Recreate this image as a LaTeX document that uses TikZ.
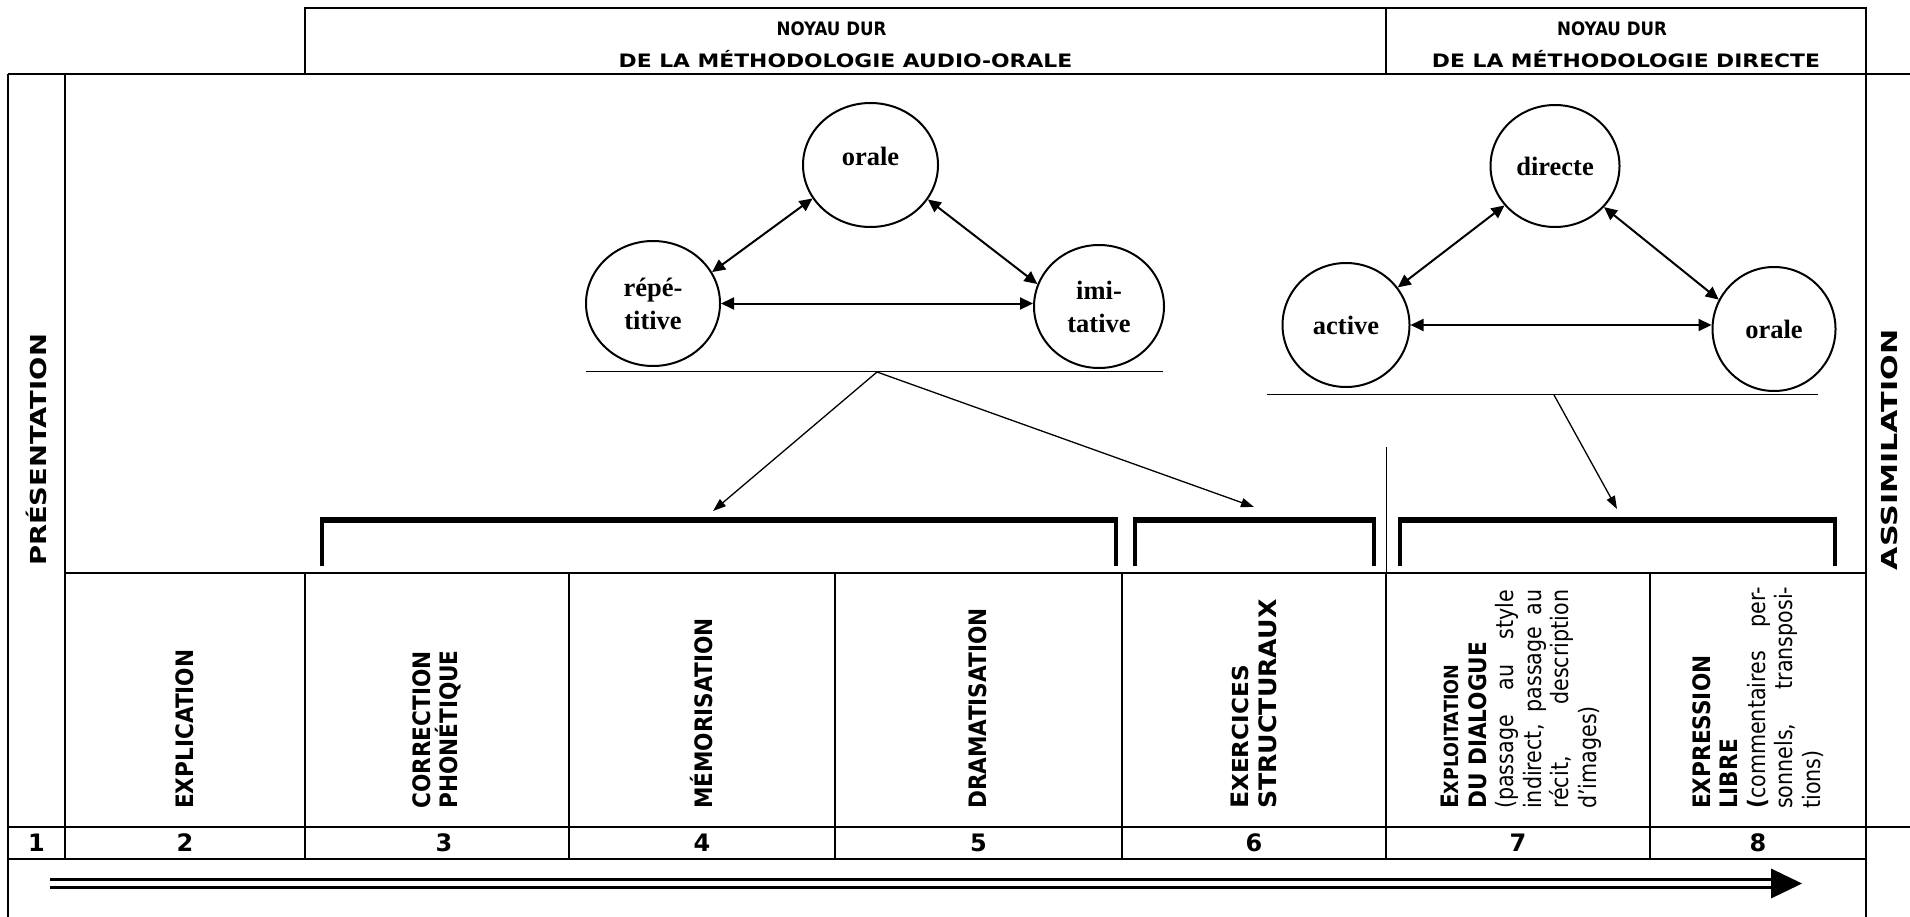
\documentclass[tikz,border=0pt]{standalone}
\usepackage{fontspec}
\setmainfont{DejaVu Sans}
\newfontfamily\hdfont{DejaVu Sans}[FakeStretch=1.18]
\newfontfamily\hdfontn{DejaVu Sans}[FakeStretch=0.9]
\newfontfamily\sidefont{DejaVu Sans}[FakeStretch=1.245]
\newfontfamily\sidewfont{DejaVu Sans}[FakeStretch=1.37]
\newfontfamily\rotfont{DejaVu Sans}[FakeStretch=0.86,BoldFeatures={FakeStretch=0.9}]
\newfontfamily\rotwfont{DejaVu Sans}[FakeStretch=1.05]
\newfontfamily\ovfont{Liberation Serif}
\usetikzlibrary{arrows.meta,shapes.geometric}

\begin{document}
\begin{tikzpicture}[
    x=1pt,y=-1pt,
    frame/.style={line width=2pt},
    oval/.style={draw,ellipse,line width=2pt,inner sep=0pt,align=center,
        font=\ovfont\bfseries\fontsize{26.5}{33}\selectfont},
    dbl/.style={{Triangle[length=13pt,width=12pt]}-{Triangle[length=13pt,width=12pt]},line width=2pt},
    arr/.style={-{Triangle[length=13pt,width=9pt]},line width=1.3pt},
    brk/.style={line width=4pt},
    head/.style={font=\hdfont\bfseries\fontsize{18.5}{32}\selectfont,align=center},
    side/.style={rotate=90,font=\sidefont\bfseries\fontsize{22}{22}\selectfont},
    cat/.style={rotate=90,anchor=west,inner sep=0pt,align=left,
        font=\rotfont\bfseries\fontsize{24}{27.5}\selectfont},
    num/.style={font=\bfseries\fontsize{24}{24}\selectfont}
]
\fill[white] (0,0) rectangle (1910,917);
\useasboundingbox (0,0) rectangle (1910,917);

% table frame
\draw[frame] (305,8) rectangle (1866,74);
\draw[frame] (1386,8) -- (1386,74);
\draw[frame] (8,74) -- (1910,74);
\draw[frame] (8,74) -- (8,917);
\draw[frame] (1866,74) -- (1866,917);
\draw[frame] (65,74) -- (65,859);
\draw[frame] (65,573) -- (1866,573);
\draw[frame] (8,827) -- (1910,827);
\draw[frame] (8,859) -- (1866,859);
\foreach \x in {305,569,835,1122,1386,1650}
    \draw[frame] (\x,573) -- (\x,859);
\draw (1386,447) -- (1386,573);

% headers
\node[head] (hdao) at (845.5,44.5) {{\hdfontn NOYAU DUR}\hspace*{28pt}\\DE LA MÉTHODOLOGIE AUDIO-ORALE};
\node[head] (hddir) at (1626,44.5) {{\hdfontn NOYAU DUR}\hspace*{28pt}\\DE LA MÉTHODOLOGIE DIRECTE};
\node[side] (pres) at (36.5,450) {PRÉSENTATION};
\node[side,font=\sidewfont\bfseries\fontsize{22}{22}\selectfont] (assim) at (1889,450) {ASSIMILATION};

% audio-orale
\node[oval,minimum width=135pt,minimum height=124pt,text depth=17pt] (orale) at (870.5,165) {orale};
\node[oval,minimum width=134pt,minimum height=125pt] (repet) at (653,303.5) {répé-\\titive};
\node[oval,minimum width=130pt,minimum height=123pt] (imit) at (1099,306.5) {imi-\\tative};
\draw[dbl] (repet.28) -- (orale.210);
\draw[dbl] (orale.329) -- (imit.160);
\draw[dbl] (repet.east) -- (repet.east -| imit.west);
\draw (586,371) -- (1163,371);

% directe
\node[oval,minimum width=129pt,minimum height=122pt] (directe) at (1555,166) {directe};
\node[oval,minimum width=127pt,minimum height=124pt] (active) at (1346,325) {active};
\node[oval,minimum width=123pt,minimum height=124pt] (oraled) at (1774,329) {orale};
\draw[dbl] (active.36) -- (directe.218);
\draw[dbl] (directe.320) -- (oraled.152);
\draw[dbl] (active.east) -- (active.east -| oraled.west);
\draw (1267,394) -- (1818,394);

% brackets
\foreach \l/\r in {322/1116,1135/1374,1400/1835}{
    \draw[brk] (\l,566) -- (\l,520) -- (\r,520) -- (\r,566);
    \draw[line width=6pt] (\l-2,520) -- (\r+2,520);
}
\coordinate (aosplit) at (877,372);
\coordinate (dsplit) at (1554,395);
\coordinate (b1) at (713,511);
\coordinate (b2) at (1254,507);
\coordinate (b3) at (1617,509);
\draw[arr] (aosplit) -- (b1);
\draw[arr] (aosplit) -- (b2);
\draw[arr] (dsplit) -- (b3);

% steps
\node[cat] (c2) at (185,809) {EXPLICATION};
\node[cat] (c3) at (437,809) {CORRECTION\\PHONÉTIQUE};
\node[cat] (c4) at (702,809) {MÉMORISATION};
\node[cat] (c5) at (978,809) {DRAMATISATION};
\node[cat,font=\rotwfont\bfseries\fontsize{24}{27.5}\selectfont] (c6) at (1254,809)
    {E{\fontsize{22}{27.5}\selectfont XERCICES}\\STRUCTURAUX};
\node[cat,text width=219pt,align=justify] (c7) at (1521,809)
    {E{\fontsize{19.5}{27.5}\selectfont XPLOITATION}\\DU DIALOGUE\\
     \mdseries(passage au style\linebreak indirect, passage au\linebreak récit, description\linebreak d’images)};
\node[cat,text width=222pt,align=justify] (c8) at (1758,809)
    {EXPRESSION\\LIBRE\\(\mdseries commentaires per-\linebreak sonnels, transposi-\linebreak tions)};
\foreach \n/\x in {1/36.5,2/185,3/444,4/702,5/978.5,6/1254,7/1518,8/1758}
    \node[num] (n\n) at (\x,843) {\n};

% time arrow
\coordinate (tstart) at (50,883.5);
\coordinate (tend) at (1802,883.5);
\draw[double,double distance=4.5pt,line width=3pt] (tstart) -- ([xshift=-28pt]tend);
\fill (tend) -- ++(-31,-15) -- ++(0,30) -- cycle;
\end{tikzpicture}
\end{document}
